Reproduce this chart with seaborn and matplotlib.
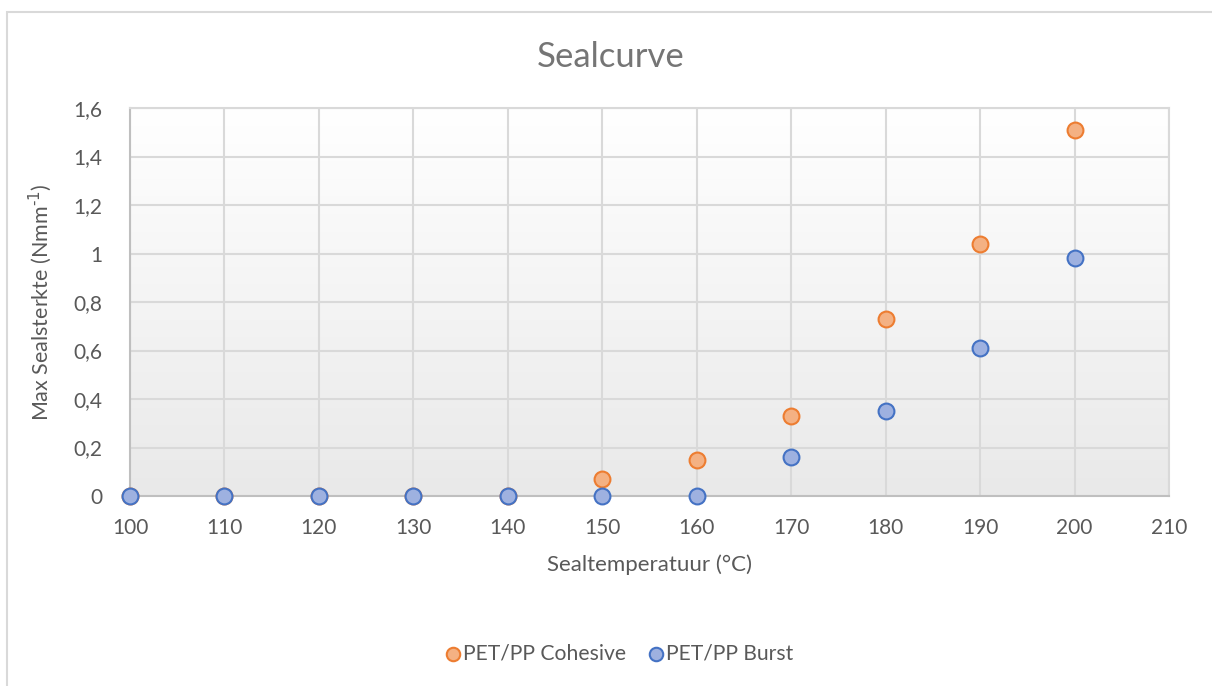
import numpy as np
import pandas as pd
import matplotlib
matplotlib.use("Agg")
import matplotlib.pyplot as plt
import seaborn as sns
from matplotlib.patches import Rectangle
from matplotlib.ticker import FuncFormatter

temps = [100, 110, 120, 130, 140, 150, 160, 170, 180, 190, 200]
cohesive = [0, 0, 0, 0, 0, 0.07, 0.15, 0.33, 0.73, 1.04, 1.51]
burst = [0, 0, 0, 0, 0, 0, 0, 0.16, 0.35, 0.61, 0.98]
series_names = ["PET/PP Cohesive", "PET/PP Burst"]
x_ticks = [100, 110, 120, 130, 140, 150, 160, 170, 180, 190, 200, 210]
y_ticks = [0, 0.2, 0.4, 0.6, 0.8, 1.0, 1.2, 1.4, 1.6]

df = pd.concat([
    pd.DataFrame({"T": temps, "v": cohesive, "s": series_names[0]}),
    pd.DataFrame({"T": temps, "v": burst, "s": series_names[1]}),
])

sns.set_theme(style="white")
plt.rcParams["font.family"] = ["Lato", "DejaVu Sans"]
plt.rcParams["axes.unicode_minus"] = False

fig = plt.figure(figsize=(12.12, 6.86), dpi=100)
ax = fig.add_axes([130/1212, 1-496/686, (1169-130)/1212, (496-108)/686])

# outer chart border
fig.patches.append(Rectangle((7/1212, -0.01), 1.1, 1-12/686+0.01, transform=fig.transFigure,
                             fill=False, edgecolor="#d9d9d9", linewidth=1.5, zorder=0))

# gradient plot background
grad = np.linspace(0, 1, 256).reshape(-1, 1)
ax.imshow(grad, cmap=matplotlib.colors.LinearSegmentedColormap.from_list("g", ["#ffffff", "#e9e9e9"]),
          aspect="auto", extent=[0, 1, 0, 1], transform=ax.transAxes, zorder=-5)

palette = {series_names[0]: "#f4b183", series_names[1]: "#9eb1e0"}
edges = {series_names[0]: "#ed7d31", series_names[1]: "#4472c4"}
for name in series_names:
    sub = df[df.s == name]
    sns.scatterplot(data=sub, x="T", y="v", ax=ax, color=palette[name], edgecolor=edges[name],
                    linewidth=1.5, s=130, label=name, zorder=5, clip_on=False)

ax.set_xlim(100, 210)
ax.set_ylim(0, 1.6)
ax.set_xticks(x_ticks)
ax.set_yticks(y_ticks)
ax.yaxis.set_major_formatter(FuncFormatter(lambda v, p: ("%g" % round(v, 1)).replace(".", ",")))
ax.grid(True, color="#d9d9d9", linewidth=1.5, zorder=0)
ax.set_axisbelow(True)
for side in ["top", "right"]:
    ax.spines[side].set_color("#d9d9d9")
    ax.spines[side].set_linewidth(1.5)
for side in ["left", "bottom"]:
    ax.spines[side].set_color("#bfbfbf")
    ax.spines[side].set_linewidth(1.5)
ax.tick_params(axis="x", length=0, labelsize=15, colors="#595959", pad=16)
ax.tick_params(axis="y", length=0, labelsize=15, colors="#595959", pad=20)
ax.set_xlabel("Sealtemperatuur (°C)", fontsize=16, color="#595959", labelpad=12)
ax.set_ylabel("Max Sealsterkte (Nmm$^{\\text{-1}}$)", fontsize=15.5, color="#595959", labelpad=14)
fig.text(611/1212, 1-57/686, "Sealcurve", ha="center", va="center", fontsize=25, color="#757575")

leg = ax.legend(loc="center", bbox_to_anchor=(620/1212, 1-654/686), bbox_transform=fig.transFigure,
                ncol=2, frameon=False, fontsize=15.2, handlelength=0.6, handletextpad=0.2,
                columnspacing=1.1, markerscale=0.85)
for t in leg.get_texts():
    t.set_color("#595959")

fig.savefig("out.png", dpi=100)
